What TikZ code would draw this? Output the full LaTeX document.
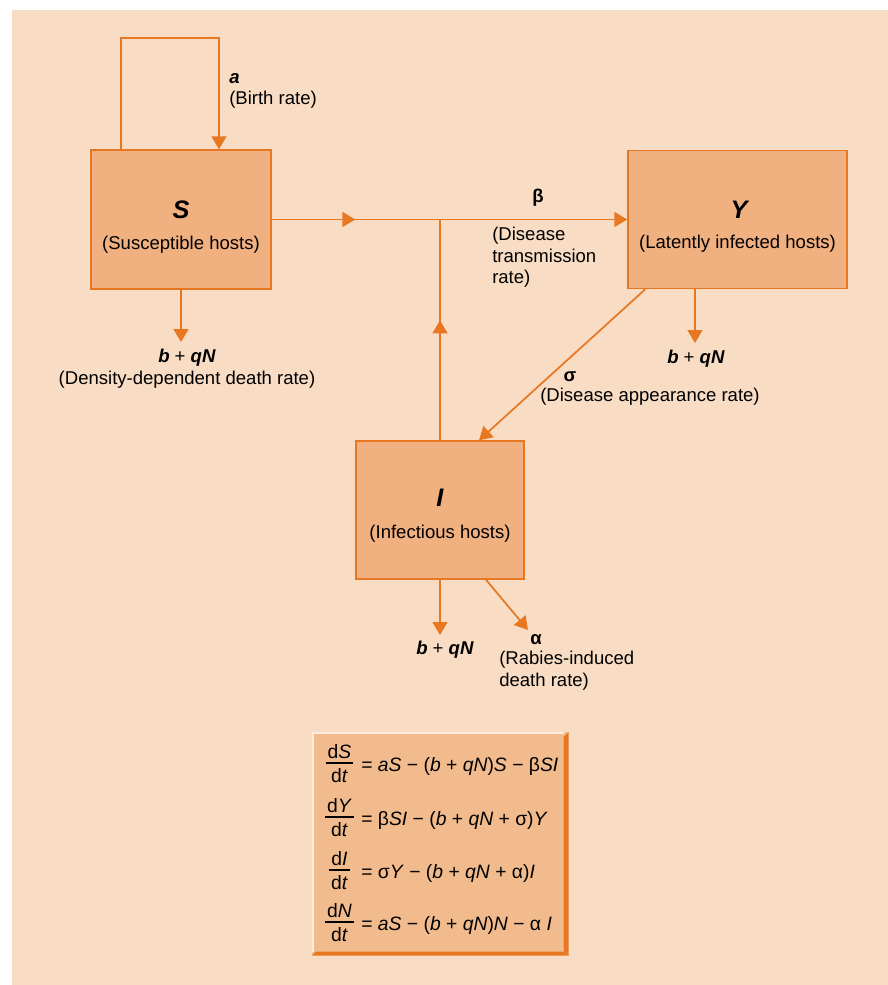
\documentclass[tikz,border=0pt]{standalone}
\usepackage{fontspec}
\setmainfont{Liberation Sans}
\usetikzlibrary{arrows.meta,decorations.markings,calc}
\definecolor{bgc}{RGB}{248,220,196}
\definecolor{boxc}{RGB}{240,176,128}
\definecolor{eqc}{RGB}{242,187,142}
\definecolor{linec}{RGB}{232,119,34}
\definecolor{hilite}{RGB}{252,236,220}
\newcommand\bfit[1]{\textbf{\textit{#1}}}
\setlength\arrayrulewidth{1pt}
\newcommand\dfr[2]{\begin{tabular}{@{\hspace{1.5pt}}c@{\hspace{1.5pt}}}d\textit{#1}\\[-1pt]\hline\rule{0pt}{14pt}d\textit{#2}\end{tabular}}
\begin{document}
\begin{tikzpicture}[x=0.75pt,y=-0.75pt,
  every node/.style={font=\fontsize{13.9}{16.1}\selectfont, inner sep=0pt},
  hostbox/.style={draw=linec, line width=1.1pt, fill=boxc, rectangle},
  conn/.style={color=linec, line width=1.3pt},
  arrowend/.style={-{Triangle[length=9.75pt,width=11.25pt]}},
  bigletter/.style={font=\fontsize{19}{22}\selectfont\bfseries\itshape},
  eqtext/.style={font=\fontsize{14.5}{14}\selectfont},
  midtip/.style={postaction={decorate}, decoration={markings, mark=at position #1 with {\arrow{Triangle[length=9.75pt,width=11.25pt]}}}},
]
\useasboundingbox (0,0) rectangle (888,985);
\fill[bgc] (12,10) rectangle (888,985);

% host boxes
\node[hostbox, minimum width=135pt, minimum height=104.25pt] (S) at (181,219.5) {};
\node[hostbox, minimum width=164.25pt, minimum height=103.5pt] (Y) at (737.5,219.5) {};
\node[hostbox, minimum width=126pt, minimum height=103.5pt] (I) at (440,510) {};

\node[bigletter] (Slab) at (181,210) {S};
\node (Ssub) at (181,245) {(Susceptible hosts)};
\node[bigletter] (Ylab) at (739,210) {Y};
\node (Ysub) at (737.5,244) {(Latently infected hosts)};
\node[bigletter] (Ilab) at (440,498) {I};
\node (Isub) at (440,534) {(Infectious hosts)};

% birth loop
\coordinate (loopL) at (121,38);
\coordinate (loopR) at (219,38);
\draw[conn,arrowend] (S.north -| loopL) -- (loopL) -- (loopR) -- (S.north -| loopR);
\node[anchor=west, font=\fontsize{13.9}{16.1}\selectfont\bfseries\itshape] (alab) at (229,79) {a};
\node[anchor=west] (birth) at (229,100) {(Birth rate)};

% transmission
\coordinate (J) at (I.north |- S.east);
\draw[conn,arrowend,midtip=0.235] (S.east) -- (Y.west);
\draw[conn,midtip=0.543] (I.north) -- (J);
\node (beta) at (538,198) {\textbf{β}};
\node[anchor=north west, align=left] (betal) at (492,227) {(Disease\\transmission\\rate)};

% S death
\coordinate (Sd) at (181,342);
\draw[conn,arrowend] (S.south) -- (Sd);
\node (Sbq) at (187,358) {\bfit{b} + \bfit{qN}};
\node (Sdd) at (187,380) {(Density-dependent death rate)};

% Y death
\coordinate (Yd) at (695,343);
\draw[conn,arrowend] (Yd |- Y.south) -- (Yd);
\node (Ybq) at (696,359) {\bfit{b} + \bfit{qN}};

% Y -> I
\draw[conn,arrowend] ([xshift=13.5pt]Y.south west) -- ([xshift=29.25pt]I.north);
\node (sig) at (570,377) {\textbf{σ}};
\node (sigl) at (650,397) {(Disease appearance rate)};

% I death
\coordinate (Id) at (440,635);
\draw[conn,arrowend] (I.south) -- (Id);
\node (Ibq) at (445,650) {\bfit{b} + \bfit{qN}};
\coordinate (Ia) at (528,630);
\draw[conn,arrowend] ([xshift=34.5pt]I.south) -- (Ia);
\node (alpha) at (536,640) {\textbf{α}};
\node[anchor=north west, align=left] (alphal) at (499,651) {(Rabies-induced\\death rate)};

% equation box
\node[fill=eqc, minimum width=192pt, minimum height=167.25pt, anchor=north west] (eqbox) at (312,732) {};
\fill[linec] (eqbox.north east) -- (eqbox.south east) -- ($(eqbox.south east)+(-5,-5)$) -- ($(eqbox.north east)+(-5,5)$) -- cycle;
\fill[linec] (eqbox.south west) -- (eqbox.south east) -- ($(eqbox.south east)+(-5,-4)$) -- ($(eqbox.south west)+(4,-4)$) -- cycle;
\draw[hilite, line width=1.2pt] ($(eqbox.south west)+(1,-4)$) -- ($(eqbox.north west)+(1,1)$) -- ($(eqbox.north east)+(-5,1)$);

\node[eqtext] (f1) at (339.5,766) {\dfr{S}{t}};
\node[eqtext, anchor=base west] (e1) at (361,771) {= \textit{aS} − (\textit{b} + \textit{qN})\textit{S} − β\textit{SI}};
\node[eqtext] (f2) at (339.5,820) {\dfr{Y}{t}};
\node[eqtext, anchor=base west] (e2) at (361,825) {= β\textit{SI} − (\textit{b} + \textit{qN} + σ)\textit{Y}};
\node[eqtext] (f3) at (339.5,873) {\dfr{I}{t}};
\node[eqtext, anchor=base west] (e3) at (361,878) {= σ\textit{Y} − (\textit{b} + \textit{qN} + α)\textit{I}};
\node[eqtext] (f4) at (339.5,925) {\dfr{N}{t}};
\node[eqtext, anchor=base west] (e4) at (361,930) {= \textit{aS} − (\textit{b} + \textit{qN})\textit{N} − α \textit{I}};
\end{tikzpicture}
\end{document}
